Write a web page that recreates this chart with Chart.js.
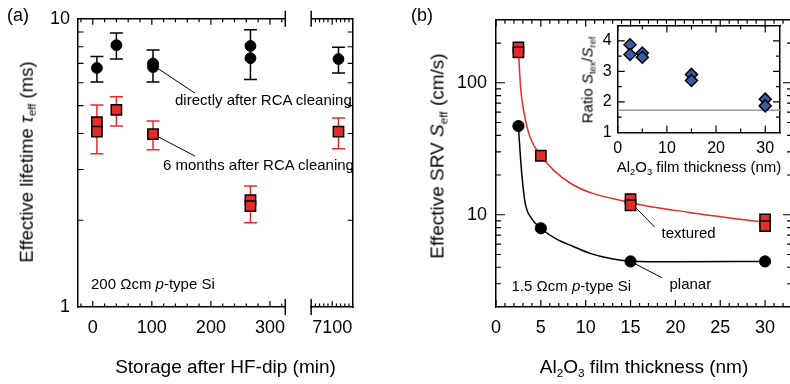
<!DOCTYPE html>
<html>
<head>
<meta charset="utf-8">
<script src="https://cdn.jsdelivr.net/npm/chart.js@4.4.1/dist/chart.umd.min.js"></script>
<style>
  html, body { margin: 0; padding: 0; background: #fff; }
  #fig { position: relative; width: 790px; height: 384px; overflow: hidden; background: #fff;
         font-family: "Liberation Sans", Arial, sans-serif; color: #000; }
  #fig canvas { position: absolute; top: 0; }
  .lab { position: absolute; white-space: nowrap; line-height: 1; z-index: 5; }
  .lab sub { font-size: 0.62em; vertical-align: -0.3em; line-height: 0; }
  .f19 { font-size: 19px; }
  .f18 { font-size: 18px; }
  .f15 { font-size: 15px; }
  .mid { transform: translateX(-50%); }
  .rot { transform: translate(-50%, -50%) rotate(-90deg); }
</style>
</head>
<body>
<div id="fig">
  <canvas id="lifetime" width="400" height="384" style="left:0"></canvas>
  <canvas id="srv" width="400" height="384" style="left:400px"></canvas>
  <canvas id="ratio" width="250" height="190" style="left:540px"></canvas>

  <div class="lab f18" style="left:7px; top:5.5px">(a)</div>
  <div class="lab f18" style="left:411px; top:5.5px">(b)</div>

  <div class="lab rot" style="left:27px; top:162px; font-size:18.5px">Effective lifetime <i>τ</i><sub>eff</sub> (ms)</div>
  <div class="lab f19 mid" style="left:225.5px; top:357px">Storage after HF-dip (min)</div>
  <div class="lab f15" style="left:175px; top:91.6px">directly after RCA cleaning</div>
  <div class="lab f15" style="left:163px; top:157.3px">6 months after RCA cleaning</div>
  <div class="lab f15" style="left:91px; top:275.6px">200 Ωcm <i>p</i>-type Si</div>

  <div class="lab f19 rot" style="left:436.7px; top:156px">Effective SRV <i>S</i><sub>eff</sub> (cm/s)</div>
  <div class="lab f19 mid" style="left:644px; top:357px">Al<sub>2</sub>O<sub>3</sub> film thickness (nm)</div>
  <div class="lab f15" style="left:661.5px; top:224.6px">textured</div>
  <div class="lab f15" style="left:669.5px; top:275.6px">planar</div>
  <div class="lab f15" style="left:511.5px; top:278.3px">1.5 Ωcm <i>p</i>-type Si</div>

  <div class="lab f15 rot" style="left:587px; top:80px">Ratio <i>S</i><sub>tex</sub>/<i>S</i><sub>ref</sub></div>
  <div class="lab f15 mid" style="left:699px; top:159px">Al<sub>2</sub>O<sub>3</sub> film thickness (nm)</div>
</div>

<script>
// lifetime vs storage time after the HF dip (panel a)
const storageMin = [7, 40, 102, 102, 267, 267];
const tauFresh = [6.75, 8.1, 7.0, 6.8, 8.05, 7.3];
const tauFreshLo = [6.03, 7.26, 6.03, null, 6.16, null];
const tauFreshHi = [7.4, 8.93, 7.8, null, 9.17, null];

const storageMinAged = [7, 7, 40, 102, 267, 267];
const tauAged = [4.38, 4.06, 4.83, 3.98, 2.35, 2.24];
const tauAgedLo = [3.40, null, 4.25, 3.51, 1.96, null];
const tauAgedHi = [5.02, null, 5.36, 4.42, 2.63, null];

// long storage, right of the axis break
const storageLong = [7130];
const tauFreshLong = [7.25];
const tauFreshLongLo = [6.49];
const tauFreshLongHi = [7.96];
const tauAgedLong = [4.06];
const tauAgedLongLo = [3.54];
const tauAgedLongHi = [4.53];

const tauTicks = [1, 10];
const tauMinor = [2, 3, 4, 5, 6, 7, 8, 9];
const storageTicks = [0, 100, 200, 300];
const storageMinor = [-20, 20, 40, 60, 80, 120, 140, 160, 180, 220, 240, 260, 280, 320];
const storageLongTicks = [7100];
const storageLongMinor = [7020, 7040, 7060, 7080, 7120, 7140, 7160, 7180];

// SRV vs Al2O3 thickness (panel b)
const thicknessTex = [2.5, 2.5, 5, 15, 15, 30, 30];
const srvTextured = [185, 170, 28, 13.1, 11.8, 9.2, 8.2];
const thicknessPlanar = [2.5, 5, 15, 30];
const srvPlanar = [47, 7.9, 4.43, 4.43];

// guide-to-the-eye curves
const fitTexX = [2.5, 2.75, 3.16, 3.8, 5, 8.25, 15, 21.6, 30];
const fitTexY = [176, 90.7, 57.5, 38.6, 28, 17.4, 12.4, 10.4, 8.75];
const fitPlanarX = [2.5, 2.7, 2.9, 3.25, 4, 5, 6.8, 8.5, 10.5, 12.5, 15, 20, 30];
const fitPlanarY = [47, 29, 19.5, 12.3, 9.3, 7.9, 6.5, 5.8, 5.1, 4.7, 4.45, 4.4, 4.43];

const srvTicks = [10, 100];
const srvMinor = [3, 4, 5, 6, 7, 8, 9, 20, 30, 40, 50, 60, 70, 80, 90, 200];
const thickTicks = [0, 5, 10, 15, 20, 25, 30];
const thickMinor = [];
for (let t = 1; t <= 33; t++) if (t % 5) thickMinor.push(t);

// inset: ratio textured / planar
const ratioX = [2.5, 2.5, 5, 5, 15, 15, 30, 30];
const ratioY = [3.87, 3.55, 3.6, 3.46, 2.9, 2.7, 2.09, 1.87];
const areaRatio = 1.73;
const ratioTicks = [1, 2, 3, 4];
const ratioMinor = [1.5, 2.5, 3.5];
const ratioXTicks = [0, 10, 20, 30];
const ratioXMinor = [5, 15, 25];

const FONT = '"Liberation Sans", Arial, sans-serif';
Chart.defaults.font.family = FONT;
Chart.defaults.color = '#000';

const RED = '#e52b2c';
const BLUE = '#3d5ca8';

const pts = (xs, ys) => xs.map((x, i) => ({ x, y: ys[i] }));

// inward tick marks, major and minor
function tickMarks(marks) {
  return {
    id: 'tickMarks',
    afterDraw(chart) {
      const { ctx, chartArea: a, scales } = chart;
      ctx.save();
      ctx.strokeStyle = '#000';
      ctx.lineWidth = 1.2;
      ctx.beginPath();
      for (const m of marks) {
        const s = scales[m.axis];
        for (const v of m.values) {
          const p = s.getPixelForValue(v);
          if (m.side === 'bottom') { ctx.moveTo(p, a.bottom); ctx.lineTo(p, a.bottom - m.len); }
          else if (m.side === 'top') { ctx.moveTo(p, a.top); ctx.lineTo(p, a.top + m.len); }
          else if (m.side === 'left') { ctx.moveTo(a.left, p); ctx.lineTo(a.left + m.len, p); }
          else { ctx.moveTo(a.right, p); ctx.lineTo(a.right - m.len, p); }
        }
      }
      ctx.stroke();
      ctx.restore();
    }
  };
}

function errorBars(sets) {
  return {
    id: 'errorBars',
    beforeDatasetsDraw(chart) {
      const { ctx, scales } = chart;
      const y = scales.y;
      ctx.save();
      ctx.lineWidth = 1.5;
      for (const s of sets) {
        const x = scales[s.axis];
        ctx.strokeStyle = s.color;
        ctx.beginPath();
        s.xs.forEach((xv, i) => {
          if (s.lo[i] == null) return;
          const px = x.getPixelForValue(xv);
          const top = y.getPixelForValue(s.hi[i]);
          const bot = y.getPixelForValue(s.lo[i]);
          ctx.moveTo(px, top); ctx.lineTo(px, bot);
          ctx.moveTo(px - 6.5, top); ctx.lineTo(px + 6.5, top);
          ctx.moveTo(px - 6.5, bot); ctx.lineTo(px + 6.5, bot);
        });
        ctx.stroke();
      }
      ctx.restore();
    }
  };
}

// thin pointer lines from a marker to its label, in data units
function leaders(lines) {
  return {
    id: 'leaders',
    beforeDatasetsDraw(chart) {
      const { ctx, scales: { x, y } } = chart;
      ctx.save();
      ctx.strokeStyle = '#000';
      ctx.lineWidth = 1;
      ctx.beginPath();
      for (const l of lines) {
        ctx.moveTo(x.getPixelForValue(l[0]), y.getPixelForValue(l[1]));
        ctx.lineTo(x.getPixelForValue(l[2]), y.getPixelForValue(l[3]));
      }
      ctx.stroke();
      ctx.restore();
    }
  };
}

// top frame and break marks of the split time axis
const brokenAxis = {
  id: 'brokenAxis',
  afterDraw(chart) {
    const { ctx, chartArea: a, scales: { x, x2 } } = chart;
    ctx.save();
    ctx.strokeStyle = '#000';
    ctx.lineWidth = 1.5;
    ctx.beginPath();
    ctx.moveTo(x.left, a.top); ctx.lineTo(x.right, a.top);
    ctx.moveTo(x2.left, a.top); ctx.lineTo(x2.right, a.top);
    for (const p of [x.right, x2.left]) {
      ctx.moveTo(p, a.top - 8); ctx.lineTo(p, a.top + 8);
      ctx.moveTo(p, a.bottom - 8); ctx.lineTo(p, a.bottom + 8);
    }
    ctx.stroke();
    ctx.restore();
  }
};

const frame = { color: '#000', width: 1.5 };
const noGrid = { display: false, drawTicks: false };
const tickFont = { family: FONT, size: 18 };
const insetFont = { family: FONT, size: 16 };

function labelled(ticks, font, padding) {
  return {
    grid: noGrid,
    border: frame,
    ticks: { font, color: '#000', padding, maxRotation: 0, autoSkip: false, callback: v => String(v) },
    afterBuildTicks: s => { s.ticks = ticks.map(v => ({ value: v })); }
  };
}
function bare(extra) {
  return Object.assign({ grid: noGrid, border: frame, ticks: { display: false } }, extra);
}

const baseOpts = {
  responsive: false,
  animation: false,
  events: [],
  plugins: { legend: { display: false }, tooltip: { enabled: false } }
};

const blackDot = { pointStyle: 'circle', pointRadius: 5.4, pointBackgroundColor: '#000', pointBorderColor: '#000', pointBorderWidth: 1, showLine: false };
const redSquare = { pointStyle: 'rect', pointRadius: 7.3, pointBackgroundColor: RED, pointBorderColor: '#000', pointBorderWidth: 1.5, showLine: false };

// ---- panel (a) ----
new Chart(document.getElementById('lifetime'), {
  type: 'scatter',
  data: {
    datasets: [
      Object.assign({ data: pts(storageMin, tauFresh), xAxisID: 'x' }, blackDot),
      Object.assign({ data: pts(storageMinAged, tauAged), xAxisID: 'x' }, redSquare),
      Object.assign({ data: pts(storageLong, tauFreshLong), xAxisID: 'x2' }, blackDot),
      Object.assign({ data: pts(storageLong, tauAgedLong), xAxisID: 'x2' }, redSquare)
    ]
  },
  options: Object.assign({}, baseOpts, {
    layout: { autoPadding: false, padding: { top: 13.3, right: 27.3, bottom: 0, left: 0 } },
    scales: {
      x: Object.assign(labelled(storageTicks, tickFont, 10.5), {
        type: 'linear', position: 'bottom', stack: 'time', stackWeight: 222, min: -25, max: 326,
        afterFit: s => { s.height = 77; }
      }),
      xgap: {
        type: 'linear', position: 'bottom', stack: 'time', stackWeight: 27.7, min: 0, max: 1,
        grid: noGrid, border: { display: false }, ticks: { display: false },
        afterFit: s => { s.height = 77; }
      },
      x2: Object.assign(labelled(storageLongTicks, tickFont, 10.5), {
        type: 'linear', position: 'bottom', stack: 'time', stackWeight: 45, min: 7000, max: 7200,
        afterFit: s => { s.height = 77; }
      }),
      y: Object.assign(labelled(tauTicks, tickFont, 8), {
        type: 'logarithmic', position: 'left', min: 1, max: 10,
        afterFit: s => { s.width = 78; }
      }),
      yr: bare({ type: 'logarithmic', position: 'right', min: 1, max: 10, afterFit: s => { s.width = 0; } })
    }
  }),
  plugins: [
    brokenAxis,
    errorBars([
      { axis: 'x', xs: storageMin, lo: tauFreshLo, hi: tauFreshHi, color: '#000' },
      { axis: 'x', xs: storageMinAged, lo: tauAgedLo, hi: tauAgedHi, color: RED },
      { axis: 'x2', xs: storageLong, lo: tauFreshLongLo, hi: tauFreshLongHi, color: '#000' },
      { axis: 'x2', xs: storageLong, lo: tauAgedLongLo, hi: tauAgedLongHi, color: RED }
    ]),
    leaders([[102, 6.9, 173, 5.52], [102, 3.98, 173, 3.34]]),
    tickMarks([
      { axis: 'x', side: 'bottom', values: storageTicks, len: 6 },
      { axis: 'x', side: 'bottom', values: storageMinor, len: 3.5 },
      { axis: 'x', side: 'top', values: storageTicks, len: 6 },
      { axis: 'x', side: 'top', values: storageMinor, len: 3.5 },
      { axis: 'x2', side: 'bottom', values: storageLongTicks, len: 6 },
      { axis: 'x2', side: 'bottom', values: storageLongMinor, len: 3.5 },
      { axis: 'x2', side: 'top', values: storageLongTicks, len: 6 },
      { axis: 'x2', side: 'top', values: storageLongMinor, len: 3.5 },
      { axis: 'y', side: 'left', values: tauMinor, len: 5.5 },
      { axis: 'y', side: 'right', values: tauMinor, len: 5.5 }
    ])
  ]
});

// ---- panel (b) ----
new Chart(document.getElementById('srv'), {
  type: 'scatter',
  data: {
    datasets: [
      Object.assign({ data: pts(thicknessTex, srvTextured), order: 0 }, redSquare),
      Object.assign({ data: pts(thicknessPlanar, srvPlanar), order: 0 }, blackDot, { pointRadius: 5.6 }),
      { data: pts(fitTexX, fitTexY), order: 1, showLine: true, pointRadius: 0, borderColor: RED, borderWidth: 1.5, cubicInterpolationMode: 'monotone' },
      { data: pts(fitPlanarX, fitPlanarY), order: 1, showLine: true, pointRadius: 0, borderColor: '#000', borderWidth: 1.5, cubicInterpolationMode: 'monotone' }
    ]
  },
  options: Object.assign({}, baseOpts, {
    layout: { autoPadding: false, padding: { top: 0, right: 8, bottom: 0, left: 0 } },
    scales: {
      x: Object.assign(labelled(thickTicks, tickFont, 10.5), {
        type: 'linear', position: 'bottom', min: 0, max: 33, afterFit: s => { s.height = 77; }
      }),
      xt: bare({ type: 'linear', position: 'top', min: 0, max: 33, afterFit: s => { s.height = 13.3; } }),
      y: Object.assign(labelled(srvTicks, tickFont, 9), {
        type: 'logarithmic', position: 'left', min: 2, max: 300, afterFit: s => { s.width = 96; }
      }),
      yr: bare({ type: 'logarithmic', position: 'right', min: 2, max: 300, afterFit: s => { s.width = 0; } })
    }
  }),
  plugins: [
    leaders([[15, 12.4, 17.7, 8.06], [15, 4.43, 18.5, 3.33]]),
    tickMarks([
      { axis: 'x', side: 'bottom', values: thickTicks, len: 7 },
      { axis: 'x', side: 'bottom', values: thickMinor, len: 4 },
      { axis: 'x', side: 'top', values: thickTicks, len: 7 },
      { axis: 'x', side: 'top', values: thickMinor, len: 4 },
      { axis: 'y', side: 'left', values: srvTicks, len: 9 },
      { axis: 'y', side: 'left', values: srvMinor, len: 5 },
      { axis: 'y', side: 'right', values: srvTicks, len: 9 },
      { axis: 'y', side: 'right', values: srvMinor, len: 5 }
    ])
  ]
});

// ---- inset ----
new Chart(document.getElementById('ratio'), {
  type: 'scatter',
  data: {
    datasets: [
      { data: pts(ratioX, ratioY), order: 0, showLine: false, pointStyle: 'rectRot', pointRadius: 6, pointBackgroundColor: BLUE, pointBorderColor: '#000', pointBorderWidth: 1.5 },
      { data: [{ x: 0, y: areaRatio }, { x: 33, y: areaRatio }], order: 1, showLine: true, pointRadius: 0, borderColor: '#9a9a9a', borderWidth: 1.5 }
    ]
  },
  options: Object.assign({}, baseOpts, {
    layout: { autoPadding: false, padding: { top: 0, right: 10, bottom: 0, left: 0 } },
    scales: {
      x: Object.assign(labelled(ratioXTicks, insetFont, 6), {
        type: 'linear', position: 'bottom', min: 0, max: 33, afterFit: s => { s.height = 57.5; }
      }),
      xt: bare({ type: 'linear', position: 'top', min: 0, max: 33, afterFit: s => { s.height = 25.5; } }),
      y: Object.assign(labelled(ratioTicks, insetFont, 6), {
        type: 'linear', position: 'left', min: 1, max: 4.5, afterFit: s => { s.width = 77.7; }
      }),
      yr: bare({ type: 'linear', position: 'right', min: 1, max: 4.5, afterFit: s => { s.width = 0; } })
    }
  }),
  plugins: [
    tickMarks([
      { axis: 'x', side: 'bottom', values: ratioXTicks, len: 7 },
      { axis: 'x', side: 'bottom', values: ratioXMinor, len: 4 },
      { axis: 'x', side: 'top', values: ratioXTicks, len: 7 },
      { axis: 'x', side: 'top', values: ratioXMinor, len: 4 },
      { axis: 'y', side: 'left', values: ratioTicks, len: 7 },
      { axis: 'y', side: 'left', values: ratioMinor, len: 4 },
      { axis: 'y', side: 'right', values: ratioTicks, len: 7 },
      { axis: 'y', side: 'right', values: ratioMinor, len: 4 }
    ])
  ]
});
</script>
</body>
</html>
